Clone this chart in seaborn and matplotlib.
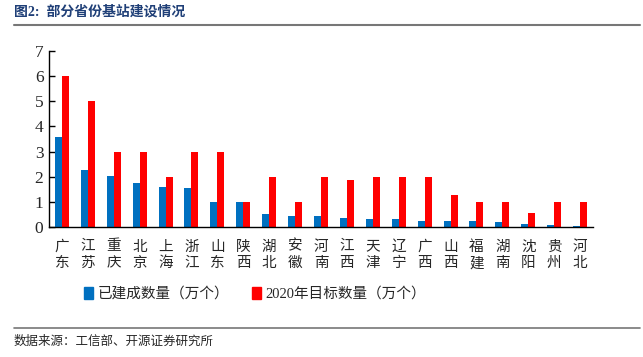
import numpy as np
import pandas as pd
import seaborn as sns
from matplotlib import pyplot as plt
from matplotlib.patches import Patch
from matplotlib.lines import Line2D

sns.set_style('white')
plt.rcParams['font.family'] = ['Liberation Serif', 'Noto Sans CJK SC', 'DejaVu Sans']

provinces = ['广东', '江苏', '重庆', '北京', '上海', '浙江', '山东', '陕西', '湖北', '安徽', '河南',
             '江西', '天津', '辽宁', '广西', '山西', '福建', '湖南', '沈阳', '贵州', '河北']
built = [3.58, 2.28, 2.01, 1.75, 1.59, 1.55, 1.0, 1.0, 0.52, 0.42, 0.42,
         0.36, 0.32, 0.32, 0.24, 0.24, 0.24, 0.2, 0.12, 0.08, 0.04]
target = [6, 5, 3, 3, 2, 3, 3, 1, 2, 1, 2,
          1.85, 2, 2, 2, 1.28, 1, 1, 0.55, 1, 1]
series = ['已建成数量（万个）', '2020年目标数量（万个）']
colors = ['#0070C0', '#FF0000']

df = pd.DataFrame({
    'prov': provinces * 2,
    'val': built + target,
    'kind': [series[0]] * len(provinces) + [series[1]] * len(provinces),
})

fig = plt.figure(figsize=(6.43, 3.57), dpi=100)
ax = fig.add_axes([49 / 643, 1 - 227 / 357, 544 / 643, 176 / 357])

sns.barplot(data=df, x='prov', y='val', hue='kind', palette=colors, width=0.54, gap=0,
            saturation=1, legend=False, ax=ax, linewidth=0)

ax.set_xlim(-0.5, len(provinces) - 0.5)
ax.set_ylim(0, 7)
ax.set_yticks(range(8))
ax.set_xlabel('')
ax.set_ylabel('')
ax.set_xticks(range(len(provinces)))
ax.set_xticklabels(['\n'.join(p) for p in provinces], fontsize=10.5, linespacing=1.25,
                   family=['Noto Sans CJK SC'])
ax.set_xticks(np.arange(len(provinces) + 1) - 0.5, minor=True)
ax.tick_params(axis='x', which='major', length=0, pad=9)
ax.tick_params(axis='x', which='minor', direction='in', length=4, width=1, color='black')
ax.tick_params(axis='y', direction='in', length=4, width=1, color='black', labelsize=12.5, pad=4, left=True)
for s in ['top', 'right']:
    ax.spines[s].set_visible(False)
for s in ['left', 'bottom']:
    ax.spines[s].set_color('black')
    ax.spines[s].set_linewidth(1)

handles = [Patch(color=c, label=l) for c, l in zip(colors, series)]
fig.legend(handles=handles, loc='center', bbox_to_anchor=(0.397, 1 - 294 / 357), ncol=2,
           frameon=False, fontsize=10.5, handlelength=0.6, handleheight=0.9, handletextpad=0.3,
           columnspacing=1.6)

fig.text(14 / 643, 1 - 12 / 357, '图2:  部分省份基站建设情况', fontsize=10, fontweight='bold',
         color='#1F3F77', va='center', ha='left')
fig.add_artist(Line2D([14 / 643, 640 / 643], [1 - 25 / 357] * 2, color='#777777', lw=1.5))
fig.add_artist(Line2D([14 / 643, 640 / 643], [1 - 328 / 357] * 2, color='#777777', lw=1.2))
fig.text(14 / 643, 1 - 341 / 357, '数据来源：工信部、开源证券研究所', fontsize=9, va='center', ha='left',
         family=['Noto Sans CJK SC'])

plt.savefig('out.png', dpi=100)
